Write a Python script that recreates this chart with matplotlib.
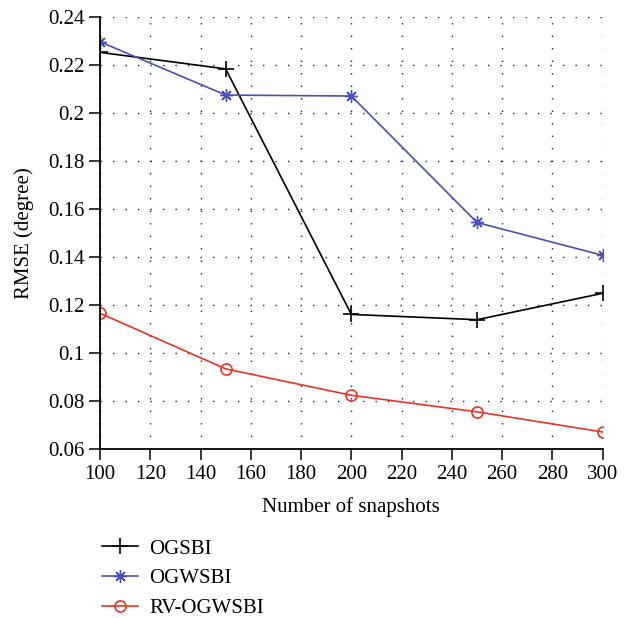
import matplotlib
matplotlib.use("Agg")
import matplotlib.pyplot as plt

snapshots = [100, 150, 200, 250, 300]
ogsbi = [0.2254, 0.2185, 0.1162, 0.1140, 0.1250]
ogwsbi = [0.2298, 0.2076, 0.2072, 0.1545, 0.1408]
rv_ogwsbi = [0.1167, 0.0935, 0.0825, 0.0756, 0.0672]
xticks = [100, 120, 140, 160, 180, 200, 220, 240, 260, 280, 300]
yticks = [0.06, 0.08, 0.1, 0.12, 0.14, 0.16, 0.18, 0.2, 0.22, 0.24]
ytick_labels = ["0.06", "0.08", "0.1", "0.12", "0.14", "0.16", "0.18", "0.2", "0.22", "0.24"]

plt.rcParams['font.family'] = ['Liberation Serif', 'DejaVu Serif']

fig = plt.figure(figsize=(6.3, 6.18), dpi=100)
ax = fig.add_axes([0.1587, 0.273, 0.798, 0.699])

ax.plot(snapshots, ogsbi, color='black', lw=1.2, marker='+', ms=11, mew=1.2, label='OGSBI')
ax.plot(snapshots, ogwsbi, color='#4a50b4', lw=1.2, marker=(8, 2, 0), ms=9, mew=1.0, label='OGWSBI')
ax.plot(snapshots, rv_ogwsbi, color='#ea3324', lw=1.2, marker='o', ms=8, mfc='none', mew=1.2, label='RV-OGWSBI')

ax.set_xlim(100, 300)
ax.set_ylim(0.06, 0.24)
ax.set_xticks(xticks)
ax.set_yticks(yticks)
ax.set_yticklabels(ytick_labels)
ax.grid(True, color='#222222', linestyle=(0, (1, 8)), linewidth=1.0)
for s in ['top', 'right']:
    ax.spines[s].set_visible(False)
for s in ['left', 'bottom']:
    ax.spines[s].set_linewidth(1.3)
ax.tick_params(direction='out', length=8, width=1.1, labelsize=15, pad=3)
ax.set_xlabel('Number of snapshots', fontsize=15, labelpad=10)
ax.set_ylabel('RMSE (degree)', fontsize=15, labelpad=10)

fig.legend(loc='upper left', bbox_to_anchor=(0.148, 0.141), frameon=False,
           fontsize=15, handlelength=1.75, labelspacing=0.48, handletextpad=0.55,
           borderaxespad=0)

fig.savefig('out.png', dpi=100)
